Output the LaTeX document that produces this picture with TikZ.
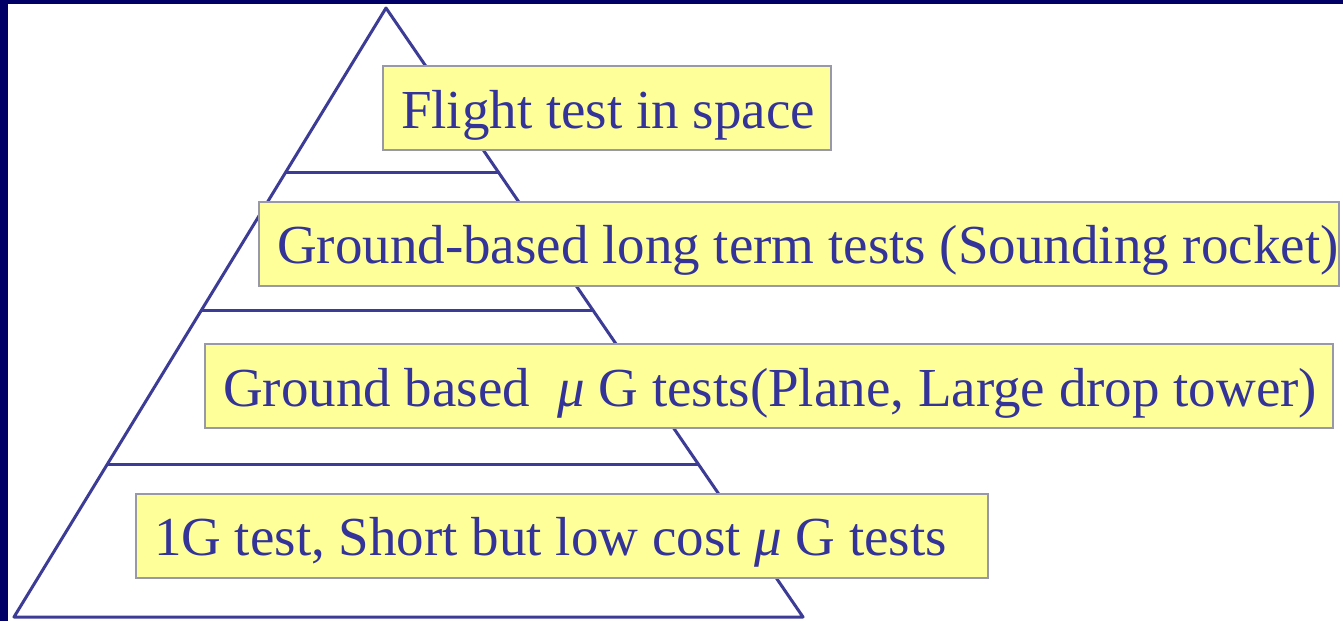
\documentclass[tikz,border=0pt]{standalone}
\usepackage{fontspec}
\setmainfont{Liberation Serif}
\newfontfamily\tierfont{Liberation Serif}
\usetikzlibrary{calc}

\definecolor{slidenavy}{HTML}{000066}
\definecolor{pyrline}{HTML}{3C3C96}
\definecolor{labelink}{HTML}{333399}
\definecolor{boxfill}{HTML}{FFFF99}
\definecolor{boxedge}{HTML}{9898A8}

\tikzset{
  tier/.style={draw=boxedge, line width=2pt, fill=boxfill, anchor=west,
    minimum height=84pt, inner xsep=18pt, text=labelink,
    font=\tierfont\fontsize{55}{60}\selectfont, text height=48pt, text depth=8pt}
}

\begin{document}
\begin{tikzpicture}[x=1pt, y=-1pt, line width=3pt]
  \useasboundingbox (0,0) rectangle (1343,621);
  \fill[white] (0,0) rectangle (1343,621);
  \fill[slidenavy] (0,0) rectangle (1343,4);
  \fill[slidenavy] (0,0) rectangle (8,621);
  % pyramid
  \coordinate (apex) at (386,8);
  \coordinate (bl) at (14,617);
  \coordinate (br) at (803,617);
  \draw[pyrline, line join=round] (apex)--(bl)--(br)--cycle;
  \foreach \t in {0.2693, 0.4975, 0.7504}
    \draw[pyrline] ($(apex)!\t!(bl)$)--($(apex)!\t!(br)$);
  % labels on the levels
  \node[tier] (flight) at (382,108) {\makebox[412pt][l]{Flight test in space}};
  \node[tier] (longterm) at (258,243.5) {\makebox[1044pt][l]{Ground-based long term tests (Sounding rocket)}};
  \node[tier] (microg) at (204,386) {\makebox[1092pt][l]{Ground based~~\textit{μ} G tests(Plane, Large drop tower)}};
  \node[tier] (lowcost) at (135,535.5) {\makebox[816pt][l]{1G test, Short but low cost \textit{μ} G tests}};
\end{tikzpicture}
\end{document}
